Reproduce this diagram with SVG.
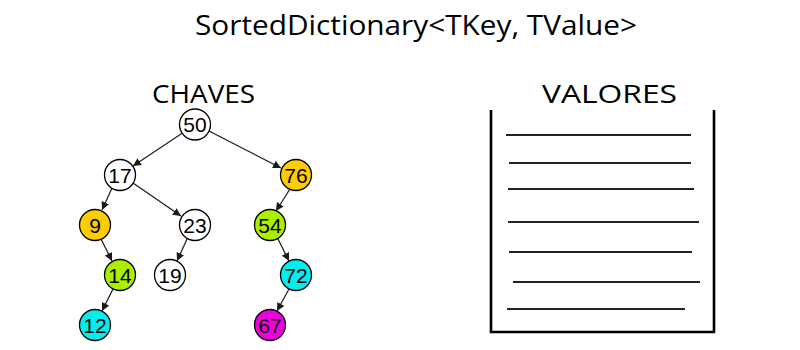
<svg xmlns="http://www.w3.org/2000/svg" width="800" height="350" viewBox="0 0 800 350">
  <style>
    .title { font-family: "Open Sans", "Liberation Sans", sans-serif; fill: #000; }
    .node circle { stroke: #000; stroke-width: 1.3; }
    .node text { font-family: "Liberation Sans", Arial, sans-serif; font-size: 21px; text-anchor: middle; fill: #000; }
    .edge { stroke: #1a1a1a; stroke-width: 1.2; fill: none; marker-end: url(#arrow); }
    .row { stroke: #222; stroke-width: 2; }
    .box { stroke: #000; stroke-width: 2.6; fill: none; }
  </style>
  <defs>
    <marker id="arrow" markerUnits="userSpaceOnUse" markerWidth="9" markerHeight="8" refX="8" refY="4" orient="auto">
      <path d="M0,0 L8,4 L0,8 Z" fill="#1a1a1a"/>
    </marker>
  </defs>

  <rect width="800" height="350" fill="#fff"/>

  <!-- headings -->
  <text class="title" x="195" y="35" font-size="27" textLength="442" lengthAdjust="spacingAndGlyphs">SortedDictionary&lt;TKey, TValue&gt;</text>
  <text class="title" x="152" y="102.5" font-size="25.5" textLength="103" lengthAdjust="spacingAndGlyphs">CHAVES</text>
  <text class="title" x="542" y="102.5" font-size="25.5" textLength="135" lengthAdjust="spacingAndGlyphs">VALORES</text>

  <!-- tree connectors -->
  <g id="edges">
    <line class="edge" x1="182.5" y1="133" x2="133" y2="166"/>
    <line class="edge" x1="209" y1="131" x2="281" y2="168"/>
    <line class="edge" x1="112" y1="188" x2="102" y2="210"/>
    <line class="edge" x1="133" y1="183" x2="181" y2="216"/>
    <line class="edge" x1="290" y1="189" x2="276" y2="211"/>
    <line class="edge" x1="101" y1="239" x2="112" y2="261"/>
    <line class="edge" x1="187" y1="239" x2="177" y2="261"/>
    <line class="edge" x1="278" y1="239" x2="289" y2="261"/>
    <line class="edge" x1="113" y1="289" x2="102" y2="311"/>
    <line class="edge" x1="289" y1="289" x2="277" y2="311"/>
  </g>

  <!-- tree nodes -->
  <g id="n50" class="node"><circle cx="195" cy="124.5" r="15.5" fill="#fff"/><text x="195" y="132">50</text></g>
  <g id="n17" class="node"><circle cx="120" cy="175" r="15.5" fill="#fff"/><text x="120" y="182.5">17</text></g>
  <g id="n76" class="node"><circle cx="296" cy="175" r="15.5" fill="#ffcc00"/><text x="296" y="182.5">76</text></g>
  <g id="n9" class="node"><circle cx="95" cy="225" r="15.5" fill="#ffcc00"/><text x="95" y="232.5">9</text></g>
  <g id="n23" class="node"><circle cx="195" cy="225" r="15.5" fill="#fff"/><text x="195" y="232.5">23</text></g>
  <g id="n54" class="node"><circle cx="270" cy="225" r="15.5" fill="#aaee00"/><text x="270" y="232.5">54</text></g>
  <g id="n14" class="node"><circle cx="120" cy="275" r="15.5" fill="#aaee00"/><text x="120" y="282.5">14</text></g>
  <g id="n19" class="node"><circle cx="170" cy="275" r="15.5" fill="#fff"/><text x="170" y="282.5">19</text></g>
  <g id="n72" class="node"><circle cx="296" cy="275" r="15.5" fill="#00eeee"/><text x="296" y="282.5">72</text></g>
  <g id="n12" class="node"><circle cx="95" cy="325" r="15.5" fill="#00eeee"/><text x="95" y="332.5">12</text></g>
  <g id="n67" class="node"><circle cx="270" cy="325" r="15.5" fill="#ee00dd"/><text x="270" y="332.5">67</text></g>

  <!-- values container -->
  <g id="values">
    <polyline class="box" points="491,110 491,332 714,332 714,110"/>
    <line class="row" x1="506" y1="135" x2="691" y2="135"/>
    <line class="row" x1="509" y1="163" x2="691" y2="163"/>
    <line class="row" x1="508" y1="189" x2="694" y2="189"/>
    <line class="row" x1="508" y1="222" x2="699" y2="222"/>
    <line class="row" x1="509" y1="252" x2="692" y2="252"/>
    <line class="row" x1="513" y1="282" x2="700" y2="282"/>
    <line class="row" x1="507" y1="309" x2="685" y2="309"/>
  </g>
</svg>
